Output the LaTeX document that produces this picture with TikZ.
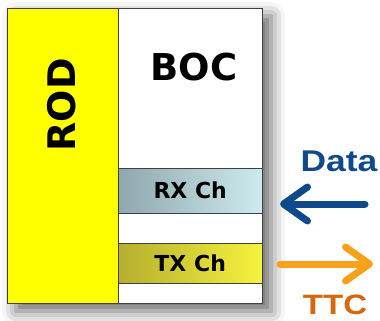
\documentclass[tikz,border=0pt]{standalone}
\usepackage{fontspec}
\setmainfont{DejaVu Sans}
\newfontfamily\arialfont{Liberation Sans}
\usetikzlibrary{arrows.meta,shadows.blur}

\definecolor{rodyellow}{HTML}{FFFF00}
\definecolor{datablue}{HTML}{0E4A8B}
\definecolor{ttcorange}{HTML}{F9A11B}
\definecolor{ttcbrown}{HTML}{D9660A}
\definecolor{rxleft}{HTML}{8FA7AE}
\definecolor{rxright}{HTML}{CDEBEF}
\definecolor{txleft}{HTML}{B5AE2E}
\definecolor{txright}{HTML}{F6F33E}

\tikzset{
  box/.style={draw=black!75, inner sep=0pt, anchor=north west},
  chbox/.style={box, minimum width=144pt, font=\bfseries\fontsize{22}{22}\selectfont},
  sidelabel/.style={font=\arialfont\bfseries\fontsize{30}{30}\selectfont, xscale=1.18, inner sep=0pt},
  bigarrow/.style={line width=7pt, line cap=round,
    -{Straight Barb[round, length=24pt, width=34pt]}}
}

\begin{document}
\begin{tikzpicture}[x=1pt,y=-1pt]
  \useasboundingbox (0,0) rectangle (380,321);

  \node[box, fill=white, minimum width=255pt, minimum height=295pt,
    blur shadow={shadow xshift=9pt, shadow yshift=-8pt, shadow blur radius=14pt, shadow opacity=60}] (board) at (7,8) {};
  \node[box, fill=rodyellow, minimum width=111pt, minimum height=295pt] (rod) at (7,8) {};
  \node[rotate=90, font=\bfseries\fontsize{38}{38}\selectfont] (rodlabel) at (62,105) {ROD};
  \node[font=\bfseries\fontsize{37}{37}\selectfont] (boclabel) at (194,67) {BOC};

  \node[chbox, left color=rxleft, right color=rxright, minimum height=45pt] (rx) at (118,168) {RX Ch};
  \node[chbox, left color=txleft, right color=txright, minimum height=40pt] (tx) at (118,243) {TX Ch};

  \node[sidelabel, text=datablue] (data) at (339,161) {Data};
  \node[sidelabel, text=ttcbrown, font=\arialfont\bfseries\fontsize{28}{28}\selectfont] (ttc) at (335,305) {TTC};

  \coordinate (datafrom) at (365,204);
  \coordinate (datato) at (280,204);
  \coordinate (ttcfrom) at (280,264);
  \coordinate (ttcto) at (373,264);
  \draw[bigarrow, datablue] (datafrom) -- (datato);
  \draw[bigarrow, ttcorange] (ttcfrom) -- (ttcto);
\end{tikzpicture}
\end{document}
